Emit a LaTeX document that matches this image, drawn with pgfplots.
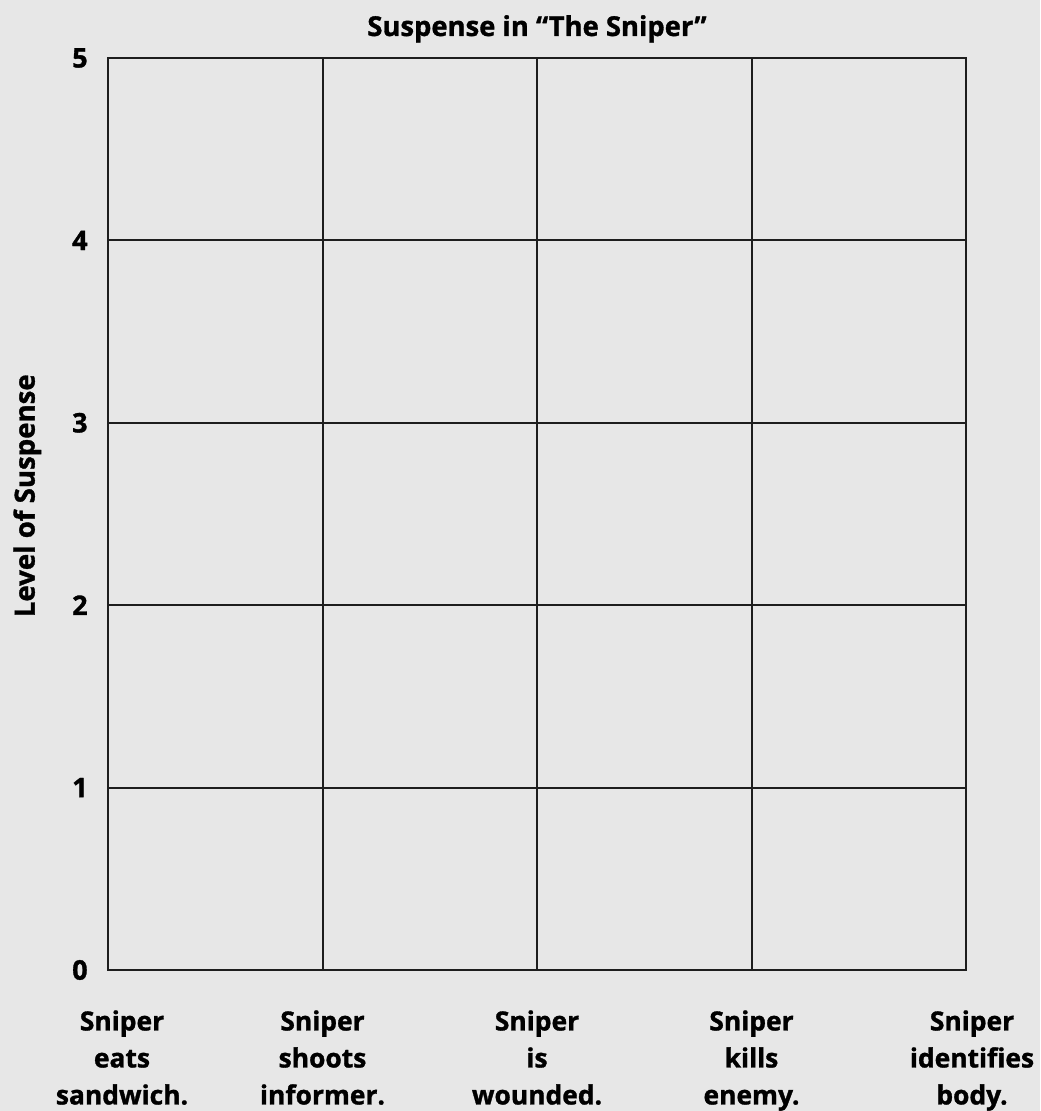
\documentclass[border=0pt]{standalone}
\usepackage{pgfplots}
\pgfplotsset{compat=1.18}
\usepackage{fontspec}
\setmainfont{Open Sans}[BoldFeatures={FakeBold=1.2}]
\definecolor{paper}{RGB}{231,231,231}
\definecolor{ink}{RGB}{30,30,30}
\begin{document}
\begin{tikzpicture}
\fill[paper] (-54pt,-70.5pt) rectangle (466pt,485pt);
\useasboundingbox (-54pt,-70.5pt) rectangle (466pt,485pt);
\begin{axis}[
  at={(0pt,0pt)}, anchor=south west,
  scale only axis, width=429pt, height=456pt,
  xmin=0, xmax=4, ymin=0, ymax=5,
  xtick={0,1,2,3,4},
  xticklabels={{\hspace*{14pt}Sniper\\\hspace*{14pt}eats\\\hspace*{14pt}sandwich.},{Sniper\\shoots\\informer.},{Sniper\\is\\wounded.},{Sniper\\kills\\enemy.},{\hspace*{6pt}Sniper\\\hspace*{6pt}identifies\\\hspace*{6pt}body.}},
  ytick={0,1,2,3,4,5},
  /pgf/number format/assume math mode=true,
  grid=major,
  major grid style={draw=ink, line width=1pt},
  axis line style={draw=ink, line width=1pt},
  major tick length=0pt,
  xticklabel style={align=center, font=\bfseries\fontsize{13.2}{18.5}\selectfont, text=black, anchor=north, inner sep=0pt, yshift=-20pt},
  yticklabel style={font=\bfseries\fontsize{13.5}{15}\selectfont, text=black, anchor=east, inner sep=0pt, xshift=-10pt},
  title={Suspense in “The Sniper”},
  title style={at={(axis description cs:0.5,1)}, anchor=base, yshift=5pt, font=\bfseries\fontsize{13.7}{16}\selectfont, inner sep=0pt},
  ylabel={Level of Suspense},
  every axis y label/.style={at={(axis description cs:-0.094,0.52)}, rotate=90, anchor=center, font=\bfseries\fontsize{13.8}{16}\selectfont, inner sep=0pt},
]
\end{axis}
\end{tikzpicture}
\end{document}
